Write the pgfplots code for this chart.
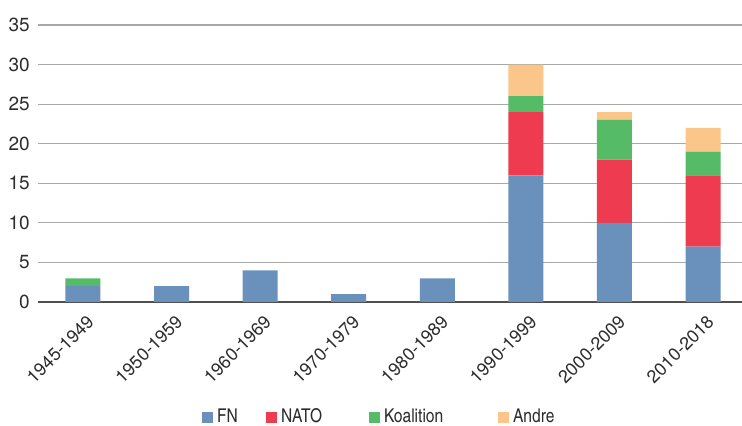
\documentclass[border=0pt]{standalone}
\usepackage{fontspec}
\setmainfont{texgyreheroscn}[Extension=.otf, UprightFont=*-regular, BoldFont=*-bold, ItalicFont=*-italic, BoldItalicFont=*-bolditalic]
\newfontfamily\heros{TeX Gyre Heros}
\usepackage{pgfplots}
\pgfplotsset{compat=1.18}
\definecolor{cFN}{RGB}{106,145,188}
\definecolor{cNATO}{RGB}{238,59,79}
\definecolor{cKoal}{RGB}{85,187,102}
\definecolor{cAndre}{RGB}{251,198,137}
\definecolor{cgrid}{RGB}{168,168,168}
\definecolor{caxis}{RGB}{80,80,80}
\definecolor{ctext}{RGB}{45,45,45}
\begin{document}
\begin{tikzpicture}
\begin{axis}[
  at={(0,0)}, anchor=south west,
  scale only axis, width=704bp, height=277bp,
  set layers=standard,
  ybar stacked, bar width=35bp,
  xmin=-0.508, xmax=7.44, ymin=0, ymax=35,
  ytick={0,5,...,35},
  xtick={0,...,7},
  xticklabels={1945-1949,1950-1959,1960-1969,1970-1979,1980-1989,1990-1999,2000-2009,2010-2018},
  major tick length=0pt,
  axis x line*=bottom, axis y line*=left,
  x axis line style={draw=caxis, line width=1.5bp, -, /pgfplots/on layer=axis foreground},
  y axis line style={draw=none},
  ymajorgrids, grid style={draw=cgrid, line width=1.2bp},
  /pgf/number format/assume math mode=true,
  tick label style={text=ctext},
  yticklabel style={font=\heros\fontsize{19bp}{23bp}\selectfont, anchor=east, inner sep=0pt, xshift=-8bp},
  xticklabel style={font=\heros\fontsize{18bp}{22bp}\selectfont, anchor=north east, inner sep=0pt, xshift=3bp, yshift=-12bp, rotate=45},
  legend style={at={(0.233,-0.4125)}, anchor=west, draw=none, fill=none,
    font=\fontsize{19bp}{23bp}\selectfont, text=ctext, legend columns=4,
    column sep=0pt, inner sep=0pt, outer sep=0pt, nodes={inner sep=0pt, outer sep=0pt}},
  legend image code/.code={\fill[#1,draw=none] (0bp,-6.5bp) rectangle (11bp,4.5bp);},
  legend cell align=left,
]
\addplot+[fill=cFN, draw=none] coordinates {(0,2) (1,2) (2,4) (3,1) (4,3) (5,16) (6,10) (7,7)};
\addplot+[fill=cNATO, draw=none] coordinates {(0,0) (1,0) (2,0) (3,0) (4,0) (5,8) (6,8) (7,9)};
\addplot+[fill=cKoal, draw=none] coordinates {(0,1) (1,0) (2,0) (3,0) (4,0) (5,2) (6,5) (7,3)};
\addplot+[fill=cAndre, draw=none] coordinates {(0,0) (1,0) (2,0) (3,0) (4,0) (5,4) (6,1) (7,3)};
\addlegendentry{\hspace{4bp}\makebox[49bp][l]{FN}}
\addlegendentry{\hspace{4bp}\makebox[88bp][l]{NATO}}
\addlegendentry{\hspace{4bp}\makebox[114bp][l]{Koalition}}
\addlegendentry{\hspace{4bp}\makebox[42bp][l]{Andre}}
\end{axis}
\pgfresetboundingbox
\useasboundingbox (-38bp,-124bp) rectangle (704bp,302bp);
\end{tikzpicture}
\end{document}
